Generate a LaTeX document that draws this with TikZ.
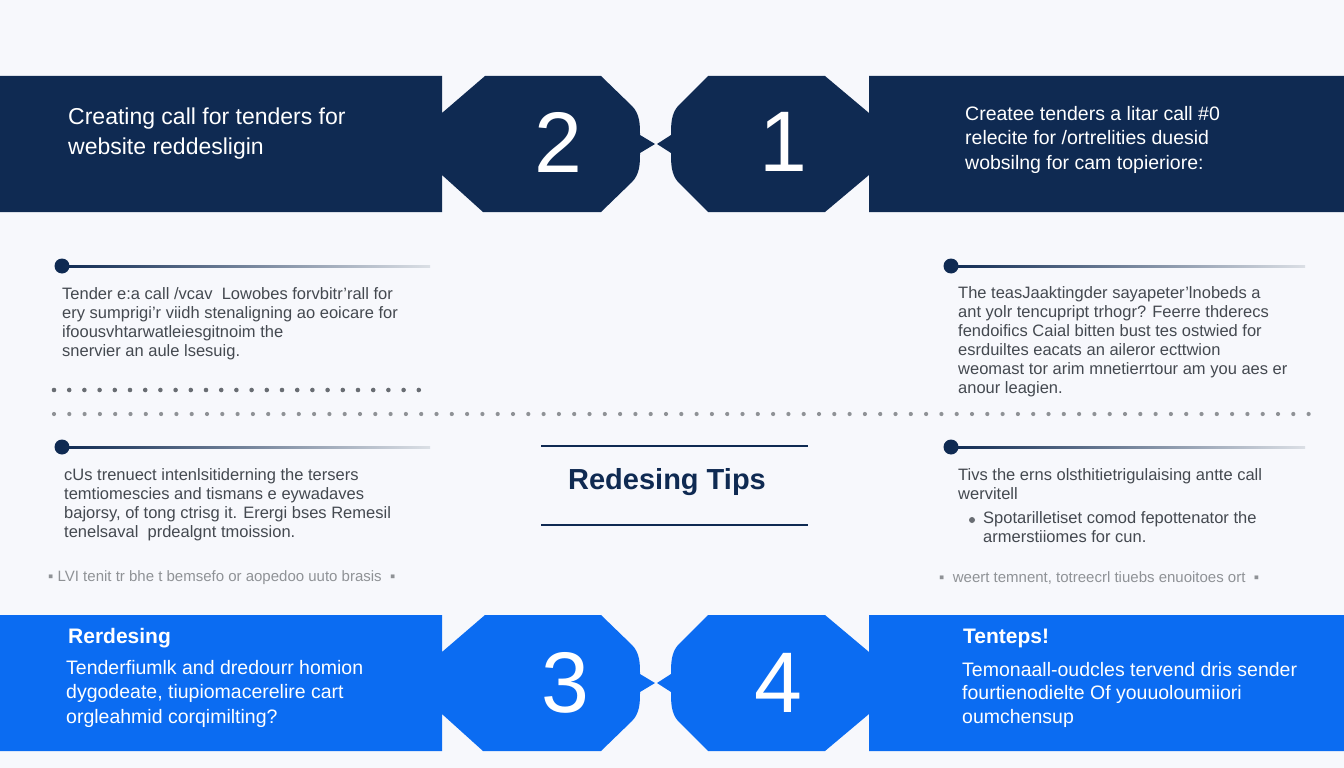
\documentclass[tikz,border=0pt]{standalone}
\usepackage{fontspec}
\setmainfont{Liberation Sans}
\begin{document}
\definecolor{navy}{HTML}{0F2A52}
\definecolor{blu}{HTML}{0B6CF2}
\definecolor{bg}{HTML}{F7F8FC}
\definecolor{txt}{HTML}{444950}
\begin{tikzpicture}[x=1pt,y=-1pt,
  body/.style={anchor=north west,align=left,font=\fontsize{16.5}{19}\selectfont,text=txt,inner sep=0pt},
  head/.style={anchor=north west,align=left,text=white,inner sep=0pt},
  num/.style={text=white,font=\fontsize{86}{86}\selectfont},
  foot/.style={anchor=west,text=txt!60,font=\fontsize{15}{15}\selectfont,inner sep=0pt},
  dot/.style={circle,fill=navy,minimum size=15pt,inner sep=0pt}]
\fill[bg] (0,0) rectangle (1344,768);
\useasboundingbox (0,0) rectangle (1344,768);
\newcommand\myband[1]{%
 \fill[#1] (0,76)--(442,76)--(442,113)--(485,76)--(601,76)--(632,106) .. controls (640,114) and (640,125) .. (640,135)--(655,144)--(640,153) .. controls (640,163) and (640,174) .. (632,182)--(601,212)--(483,212)--(442,175)--(442,212)--(0,212)--cycle;
 \fill[#1] (1344,76)--(869,76)--(869,113)--(825,76)--(708,76)--(678,106) .. controls (671,114) and (671,125) .. (671,135)--(657,144)--(671,153) .. controls (671,163) and (671,174) .. (678,182)--(708,212)--(825,212)--(869,175)--(869,212)--(1344,212)--cycle;}
\myband{navy}
\begin{scope}[shift={(0,539)}]\myband{blu}\end{scope}
% top texts
\node[head,font=\fontsize{23}{30}\selectfont] (t1) at (68,108) {Creating call for tenders for\\website reddesligin};
\node[num] (n2) at (558,142) {2};
\node[num] (n1) at (783,142) {1};
\node[head,font=\fontsize{19.5}{24.5}\selectfont] (t2) at (965,106) {Createe tenders a litar call \#0\\relecite for /ortrelities duesid\\wobsilng for cam topieriore:};
% bottom texts
\node[head,font=\bfseries\fontsize{21}{21}\selectfont] (b1) at (68,628) {Rerdesing};
\node[head,font=\fontsize{19.5}{24.5}\selectfont] (b2) at (66,660) {Tenderfiumlk and dredourr homion\\dygodeate, tiupiomacerelire cart\\orgleahmid corqimilting?};
\node[num] (n3) at (565,683) {3};
\node[num] (n4) at (778,683) {4};
\node[head,font=\bfseries\fontsize{21}{21}\selectfont] (b3) at (963,629) {Tenteps!};
\node[head,font=\fontsize{19.5}{23.5}\selectfont] (b4) at (962,662) {Temonaall-oudcles tervend dris sender\\fourtienodielte Of youuoloumiiori\\oumchensup};
% dots and lines
\foreach \n/\x/\y/\e in {d1/62/266/430, d2/951/266/1305, d3/62/447/430, d4/951/447/1305}{
  \node[dot] (\n) at (\x,\y) {};
  \shade[left color=navy,right color=navy!15] (\x,\y-1) rectangle (\e,\y+1);
}
\node[body] (p1) at (62,287) {Tender e:a call /vcav \ Lowobes forvbitr'rall for\\ery sumprigi'r viidh stenaligning ao eoicare for\\ifoousvhtarwatleiesgitnoim the\\snervier an aule lsesuig.};
\node[body] (p2) at (958,286) {The teasJaaktingder sayapeter'lnobeds a\\ant yolr tencupript trhogr? Feerre thderecs\\fendoifics Caial bitten bust tes ostwied for\\esrduiltes eacats an aileror ecttwion\\weomast tor arim mnetierrtour am you aes er\\anour leagien.};
\node[body] (p3) at (64,468) {cUs trenuect intenlsitiderning the tersers\\temtiomescies and tismans e eywadaves\\bajorsy, of tong ctrisg it. Erergi bses Remesil\\tenelsaval \ prdealgnt tmoission.};
\node[body] (p4) at (958,468) {Tivs the erns olsthitietrigulaising antte call\\wervitell};
\node[circle,fill=txt!80,minimum size=6pt,inner sep=0pt] (bl) at (972,520) {};
\node[body] (p5) at (983,511) {Spotarilletiset comod fepottenator the\\armerstiiomes for cun.};
\foreach \x in {0,...,24} \fill[txt!80] (54+15.2*\x,390) circle (2.3);
\foreach \x in {0,...,82} \fill[txt!60] (54+15.3*\x,414) circle (2.1);
\node[foot] (f1) at (48,578) {▪ LVI tenit tr bhe t bemsefo or aopedoo uuto brasis \ ▪};
\node[foot] (f2) at (939,578) {▪ \ weert temnent, totreecrl tiuebs enuoitoes ort \ ▪};
% center
\node[text=navy,font=\bfseries\fontsize{29}{29}\selectfont] (tips) at (667,482) {Redesing Tips};
\draw[navy,line width=1.5] (541,446) -- (808,446);
\draw[navy,line width=1.5] (541,525) -- (808,525);
\end{tikzpicture}
\end{document}
